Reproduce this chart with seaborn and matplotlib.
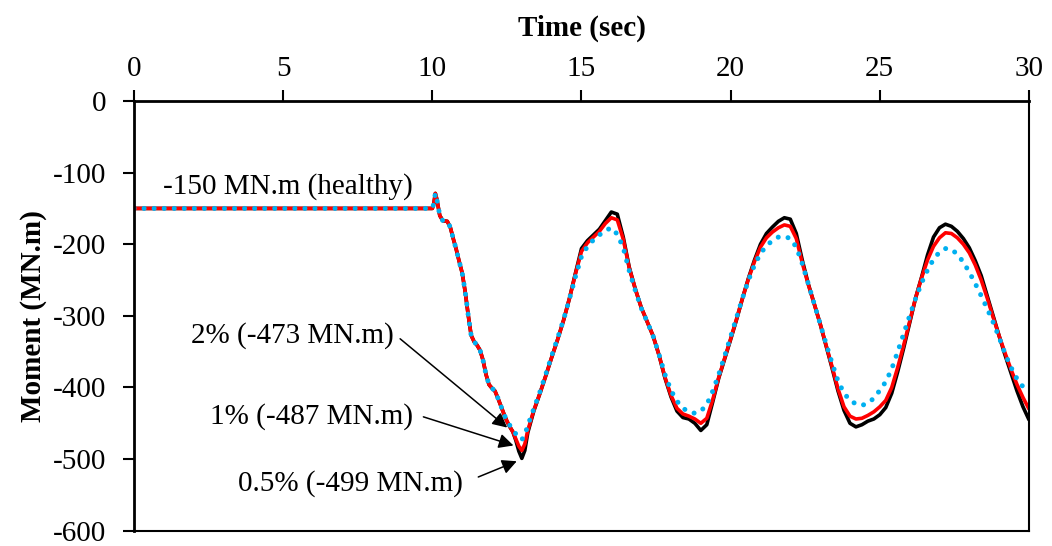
import numpy as np
import pandas as pd
import seaborn as sns
import matplotlib.pyplot as plt

# time samples (sec)
time_s = [0, 10.0, 10.05, 10.1, 10.15, 10.25, 10.35, 10.5, 10.6, 10.7, 10.8, 10.9,
          11.0, 11.1, 11.2, 11.3, 11.4, 11.5, 11.6, 11.7, 11.8, 11.9,
          12.0, 12.1, 12.2, 12.3, 12.4, 12.5, 12.6, 12.7, 12.8, 12.9,
          13.0, 13.1, 13.2, 13.4, 13.6, 13.8,
          14.0, 14.2, 14.4, 14.6, 14.8, 15.0, 15.2, 15.4, 15.6, 15.8,
          16.0, 16.2, 16.4, 16.6, 16.8, 17.0, 17.2, 17.4, 17.6, 17.8,
          18.0, 18.2, 18.4, 18.6, 18.8, 19.0, 19.2, 19.4, 19.6, 19.8,
          20.0, 20.2, 20.4, 20.6, 20.8, 21.0, 21.2, 21.4, 21.6, 21.8,
          22.0, 22.2, 22.4, 22.6, 22.8, 23.0, 23.2, 23.4, 23.6, 23.8,
          24.0, 24.2, 24.4, 24.6, 24.8, 25.0, 25.2, 25.4, 25.6, 25.8,
          26.0, 26.2, 26.4, 26.6, 26.8, 27.0, 27.2, 27.4, 27.6, 27.8,
          28.0, 28.2, 28.4, 28.6, 28.8, 29.0, 29.2, 29.4, 29.6, 29.8,
          30.0]

# moment (MN.m) for each damage level
m_05 = [-150, -150, -143, -129, -137, -160, -167, -168, -176, -192, -207, -224,
        -240, -266, -298, -327, -336, -341, -348, -362, -382, -396,
        -401, -405, -415, -426, -437, -447, -455, -462, -474, -489,
        -499, -488, -463, -433, -409, -384,
        -358, -333, -306, -275, -240, -206, -195, -187, -179, -167,
        -155, -158, -190, -232, -262, -288, -308, -328, -355, -387,
        -413, -433, -442, -444, -450, -460, -452, -420, -387, -360,
        -333, -305, -275, -247, -222, -200, -185, -176, -168, -163,
        -165, -185, -222, -255, -283, -311, -342, -373, -405, -432,
        -450, -455, -452, -447, -444, -438, -428, -408, -378, -345,
        -310, -275, -246, -215, -190, -177, -172, -175, -182, -192,
        -205, -223, -244, -272, -300, -328, -355, -380, -405, -427,
        -445]

m_1 = [-150, -150, -143, -129, -137, -160, -167, -168, -176, -192, -207, -224,
       -240, -266, -298, -327, -336, -341, -348, -362, -382, -396,
       -401, -405, -415, -426, -437, -447, -455, -462, -472, -482,
       -488, -479, -460, -432, -409, -384,
       -358, -333, -306, -275, -241, -210, -198, -190, -182, -171,
       -163, -166, -193, -233, -262, -288, -308, -328, -355, -386,
       -411, -429, -437, -440, -444, -450, -443, -417, -386, -359,
       -332, -304, -275, -248, -224, -204, -191, -183, -177, -173,
       -175, -192, -226, -256, -283, -311, -341, -371, -402, -427,
       -440, -444, -443, -439, -434, -427, -418, -400, -372, -341,
       -308, -275, -247, -222, -203, -191, -184, -185, -191, -200,
       -212, -229, -250, -275, -302, -328, -352, -375, -396, -414,
       -430]

m_2 = [-150, -150, -143, -129, -137, -160, -167, -168, -176, -192, -207, -224,
       -240, -266, -298, -327, -336, -341, -348, -362, -382, -396,
       -401, -405, -415, -426, -437, -447, -453, -458, -465, -470,
       -473, -466, -453, -430, -407, -382,
       -356, -331, -305, -276, -245, -217, -203, -194, -187, -181,
       -177, -186, -205, -237, -264, -289, -308, -328, -354, -382,
       -404, -419, -429, -434, -436, -433, -424, -405, -382, -356,
       -329, -302, -275, -250, -229, -213, -202, -195, -190, -189,
       -192, -204, -227, -255, -283, -311, -339, -366, -391, -408,
       -418, -423, -425, -422, -415, -404, -392, -374, -350, -325,
       -300, -276, -254, -236, -221, -211, -206, -207, -214, -225,
       -239, -255, -272, -290, -309, -330, -353, -372, -388, -399,
       -405]

x_ticks = [0, 5, 10, 15, 20, 25, 30]
y_ticks = [0, -100, -200, -300, -400, -500, -600]

df = pd.DataFrame({"t": time_s, "0.5%": m_05, "1%": m_1, "2%": m_2})

sns.set_style("white")
plt.rcParams["font.family"] = ["Liberation Serif", "DejaVu Serif"]
plt.rcParams["axes.unicode_minus"] = False
plt.rcParams["text.color"] = "black"
plt.rcParams["axes.labelcolor"] = "black"

fig = plt.figure(figsize=(10.52, 5.46), dpi=100)
ax = fig.add_axes([0.1274, 0.028, 0.8507, 0.787])

sns.lineplot(data=df, x="t", y="0.5%", color="black", linewidth=2.6, ax=ax)
sns.lineplot(data=df, x="t", y="1%", color="#FF0000", linewidth=2.6, ax=ax)
sns.lineplot(data=df, x="t", y="2%", color="#00B0F0", linewidth=3.6, ax=ax)
blue = ax.lines[-1]
blue.set_linestyle((0, (0.01, 2.0)))
blue.set_dash_capstyle("round")

ax.set_xlim(0, 30)
ax.set_ylim(-600, 0)
ax.set_xticks(x_ticks)
ax.set_yticks(y_ticks)

ax.xaxis.tick_top()
ax.xaxis.set_label_position("top")
ax.tick_params(axis="x", direction="out", length=8, width=1.5, pad=6, labelsize=21,
               colors="black")
ax.tick_params(axis="y", direction="out", length=8, width=1.5, pad=12, labelsize=21,
               colors="black", left=True)
for sp in ax.spines.values():
    sp.set_color("black")
    sp.set_linewidth(1.5)
ax.spines["top"].set_linewidth(2.0)
ax.spines["left"].set_linewidth(2.0)

ax.set_xlabel("Time (sec)", fontsize=21, fontweight="bold", labelpad=14)
ax.set_ylabel("Moment (MN.m)", fontsize=21, fontweight="bold", labelpad=4)

ax.text(0.97, -120, "-150 MN.m (healthy)", fontsize=21, ha="left", va="center")

labels = [("2% (-473 MN.m)", 8.69, -328, (8.92, -332), (12.51, -456)),
          ("1% (-487 MN.m)", 9.36, -440, (9.70, -441), (12.72, -481)),
          ("0.5% (-499 MN.m)", 11.04, -534, (11.54, -525), (12.83, -503))]
for txt, tx, ty, start, end in labels:
    ax.text(tx, ty, txt, fontsize=21, ha="right", va="center")
    ax.annotate("", xy=end, xytext=start,
                arrowprops=dict(arrowstyle="-|>", color="black", lw=1.1,
                                mutation_scale=22, shrinkA=0, shrinkB=0))

fig.savefig("out.png", dpi=100)
